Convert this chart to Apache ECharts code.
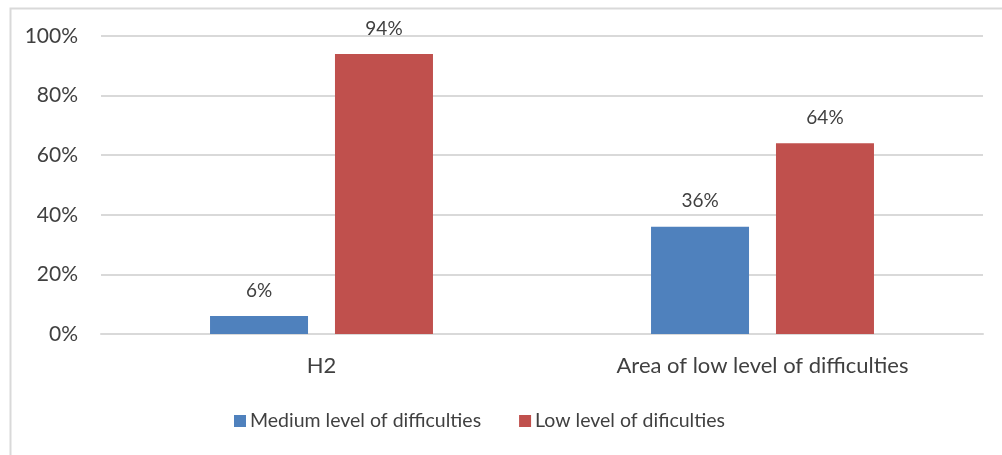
<!DOCTYPE html>
<html>
<head>
<meta charset="utf-8">
<script src="https://cdn.jsdelivr.net/npm/echarts@6/dist/echarts.min.js"></script>
<style>
html,body{margin:0;padding:0;background:#fff;}
#c{width:1002px;height:455px;}
</style>
</head>
<body>
<div id="c"></div>
<script>
const categories = ["H2", "Area of low level of difficulties"];
const seriesNames = ["Medium level of difficulties", "Low level of dificulties"];
const mediumValues = [6, 36];
const lowValues = [94, 64];
const yTicks = [0, 20, 40, 60, 80, 100];

const chart = echarts.init(document.getElementById('c'), null, {renderer: 'canvas'});
const font = 'Lato, "Liberation Sans", sans-serif';
const labelStyle = {show: true, position: 'top', formatter: p => p.value + '%', color: '#404040', fontSize: 19, fontFamily: font, distance: 16};
chart.setOption({
  animation: false,
  graphic: [{
    type: 'rect', left: 8, top: 6, shape: {width: 1100, height: 500},
    style: {fill: 'none', stroke: '#d9d9d9', lineWidth: 2}, silent: true, z: -1
  }],
  grid: {left: 101, right: 19, top: 36, bottom: 121},
  legend: {
    bottom: 19, left: 229, itemWidth: 12, itemHeight: 12, itemGap: 38,
    icon: 'rect',
    textStyle: {color: '#404040', fontSize: 19.5, fontFamily: font, padding: [0, 0, 0, -1]},
    data: seriesNames
  },
  xAxis: {
    type: 'category', data: categories,
    axisLine: {lineStyle: {color: '#d9d9d9', width: 2}},
    axisTick: {show: false},
    axisLabel: {color: '#404040', fontSize: 22, fontFamily: font, margin: 21}
  },
  yAxis: {
    type: 'value', min: yTicks[0], max: yTicks[yTicks.length - 1], interval: 20,
    axisLine: {show: false}, axisTick: {show: false},
    splitLine: {lineStyle: {color: '#d9d9d9', width: 2}},
    axisLabel: {color: '#404040', fontSize: 21, fontFamily: font, margin: 23, formatter: v => v + '%'}
  },
  series: [
    {name: seriesNames[0], type: 'bar', data: mediumValues, barWidth: 98, barGap: '27.5%', itemStyle: {color: '#4f81bd'}, label: labelStyle},
    {name: seriesNames[1], type: 'bar', data: lowValues, barWidth: 98, barGap: '27.5%', itemStyle: {color: '#c0504d'}, label: labelStyle}
  ]
});
</script>
</body>
</html>
